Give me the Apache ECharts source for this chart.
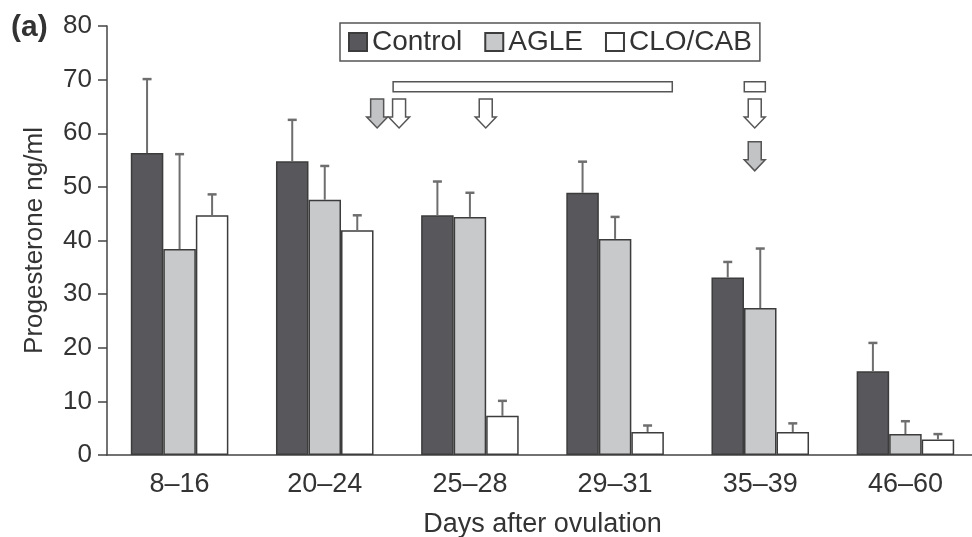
<!DOCTYPE html>
<html>
<head>
<meta charset="utf-8">
<script src="https://cdn.jsdelivr.net/npm/echarts@6/dist/echarts.min.js"></script>
<style>html,body{margin:0;padding:0;background:#fff}#c{width:972px;height:537px}</style>
</head>
<body>
<div id="c"></div>
<script>
// ---- data ----
const categories = ['8–16', '20–24', '25–28', '29–31', '35–39', '46–60'];
const control    = [56.3, 54.8, 44.7, 48.9, 33.1, 15.6];
const controlErr = [13.8, 7.7, 6.3, 5.8, 2.9, 5.3];
const agle       = [38.4, 47.6, 44.4, 40.3, 27.4, 3.9];
const agleErr    = [17.7, 6.3, 4.5, 4.1, 11.1, 2.4];
const clo        = [44.7, 41.9, 7.3, 4.3, 4.3, 2.9];
const cloErr     = [3.9, 2.8, 2.8, 1.2, 1.6, 1.0];
const yTicks     = [0, 10, 20, 30, 40, 50, 60, 70, 80];

// treatment annotations (category-index units along x, value units along y)
const treatmentBars   = [[1.471, 3.394, 69.6], [3.890, 4.035, 69.6]];
const treatmentArrows = [[1.361, 66.4, 'gray'], [1.512, 66.4, 'white'], [2.109, 66.4, 'white'], [3.962, 66.4, 'white'], [3.962, 58.4, 'gray']];

// ---- styles ----
const FONT = 'Liberation Sans, Arial, sans-serif';
const TXT = '#333';
const BAR_FRAC = 0.224;
const colors = ['#58585c', '#c8c9cb', '#ffffff'];
const EDGE = '#3c3c3c';

const chart = echarts.init(document.getElementById('c'), null, {renderer: 'canvas'});

function errRender(k) {
  return function (params, api) {
    const i = api.value(0);
    const base = api.coord([i, api.value(1)]);
    const top = api.coord([i, api.value(1) + api.value(2)]);
    const band = api.size([1, 0])[0];
    const x = base[0] + (k - 1) * band * BAR_FRAC;
    const st = {stroke: '#6e6e6e', lineWidth: 2};
    return {type: 'group', children: [
      {type: 'line', shape: {x1: x, y1: base[1], x2: x, y2: top[1]}, style: st},
      {type: 'line', shape: {x1: x - 4.5, y1: top[1], x2: x + 4.5, y2: top[1]}, style: {stroke: '#6e6e6e', lineWidth: 2.5}}
    ]};
  };
}

function annotRender(params, api) {
  const band = api.size([1, 0])[0];
  const x0 = api.coord([0, 0])[0];
  const xAt = f => x0 + f * band;
  const children = [];
  treatmentBars.forEach(b => {
    const y = api.coord([0, b[2]])[1];
    children.push({type: 'rect', shape: {x: xAt(b[0]), y: y, width: xAt(b[1]) - xAt(b[0]), height: 10},
      style: {fill: '#fff', stroke: '#555', lineWidth: 1.5}});
  });
  treatmentArrows.forEach(a => {
    const cx = xAt(a[0]);
    const y = api.coord([0, a[1]])[1];
    children.push({type: 'polygon', shape: {points: [
      [cx - 6.5, y], [cx + 6.5, y], [cx + 6.5, y + 18], [cx + 10.5, y + 18],
      [cx, y + 29], [cx - 10.5, y + 18], [cx - 6.5, y + 18]]},
      style: {fill: a[2] === 'gray' ? '#c2c3c5' : '#fff', stroke: '#555', lineWidth: 1.5}});
  });
  return {type: 'group', children: children};
}

const barSeries = (name, data, k) => ({
  name: name, type: 'bar', data: data, barWidth: (BAR_FRAC * 100) + '%', barGap: '0%',
  itemStyle: {color: colors[k], borderColor: EDGE, borderWidth: 1.5}, z: 2
});

const errSeries = (vals, errs, k) => ({
  type: 'custom', renderItem: errRender(k), z: 3, silent: true,
  data: vals.map((v, i) => [i, v, errs[i]])
});

chart.setOption({
  animation: false,
  backgroundColor: '#fff',
  grid: {left: 107, top: 26, width: 871, height: 429, containLabel: false, outerBoundsMode: 'none'},
  legend: {
    data: ['Control', 'AGLE', 'CLO/CAB'], left: 340, top: 23, icon: 'rect',
    itemWidth: 18, itemHeight: 18, itemGap: 22, padding: [5, 8],
    borderColor: '#555', borderWidth: 1.5,
    textStyle: {fontFamily: FONT, fontSize: 28, color: TXT}
  },
  xAxis: {
    type: 'category', data: categories,
    axisLine: {lineStyle: {color: '#444', width: 1.5}},
    axisTick: {length: 7, lineStyle: {color: '#444', width: 1.5}},
    axisLabel: {fontFamily: FONT, fontSize: 27, color: TXT, margin: 16},
    name: 'Days after ovulation', nameLocation: 'middle', nameGap: 56,
    nameTextStyle: {fontFamily: FONT, fontSize: 27, color: TXT}
  },
  yAxis: {
    type: 'value', min: yTicks[0], max: yTicks[yTicks.length - 1], interval: yTicks[1] - yTicks[0],
    splitLine: {show: false},
    axisLine: {show: true, lineStyle: {color: '#444', width: 1.5}},
    axisTick: {show: true, length: 9, lineStyle: {color: '#444', width: 1.5}},
    axisLabel: {fontFamily: FONT, fontSize: 26, color: TXT, margin: 15},
    name: 'Progesterone ng/ml', nameLocation: 'middle', nameGap: 59,
    nameTextStyle: {fontFamily: FONT, fontSize: 26, color: TXT}
  },
  graphic: [{type: 'text', left: 11, top: 13,
    style: {text: '(a)', font: 'bold 30px ' + FONT, fill: TXT}}],
  series: [
    barSeries('Control', control, 0),
    barSeries('AGLE', agle, 1),
    barSeries('CLO/CAB', clo, 2),
    errSeries(control, controlErr, 0),
    errSeries(agle, agleErr, 1),
    errSeries(clo, cloErr, 2),
    {type: 'custom', renderItem: annotRender, data: [[0, 0]], z: 4, silent: true, clip: false}
  ]
});
</script>
</body>
</html>
